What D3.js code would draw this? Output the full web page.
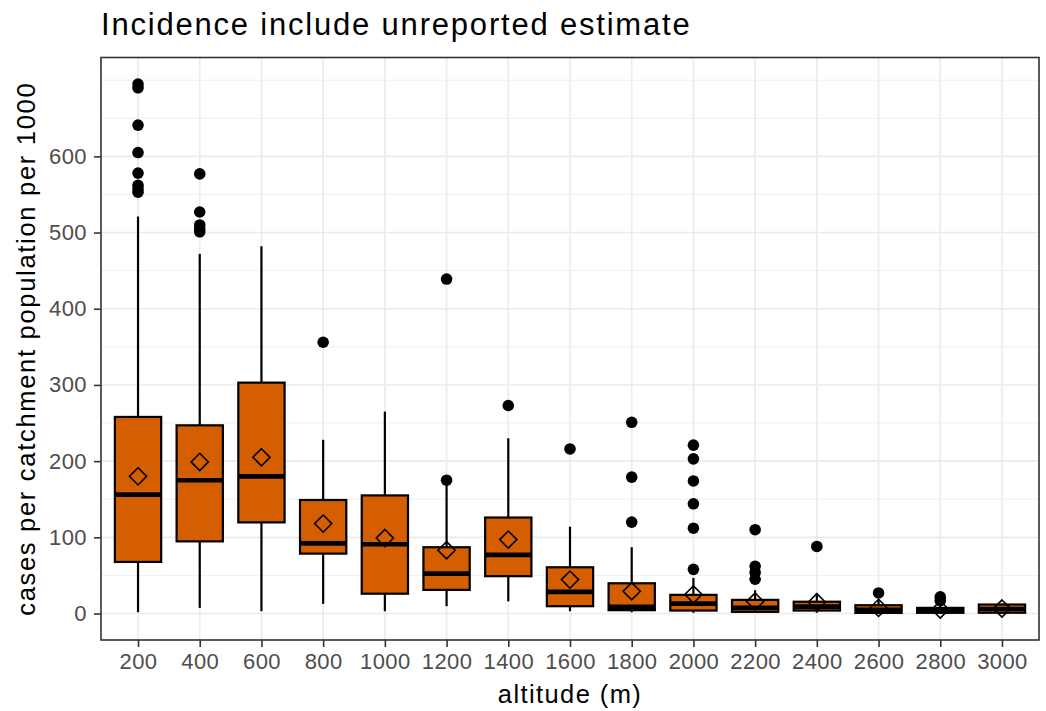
<!DOCTYPE html>
<html lang="en">
<head>
  <meta charset="UTF-8">
  <title>Incidence include unreported estimate</title>
  <script src="https://d3js.org/d3.v7.min.js"></script>
  <style>
    * { margin: 0; padding: 0; }
    body { background-color: #fff; }
    svg { display: block; font-family: "Liberation Sans", Arial, sans-serif; }
  </style>
</head>
<body>
  <svg id="chart" width="1046" height="711"></svg>

  <script>
    // data
    var altitude = [200, 400, 600, 800, 1000, 1200, 1400, 1600, 1800, 2000, 2200, 2400, 2600, 2800, 3000];
    var lowWhisker = [1.7, 7.4, 3, 12.7, 3, 9.6, 16, 3, 1.7, 1, 1, 1, 0.2, 0.2, 0.3];
    var q1 = [67.7, 94.7, 119.6, 78.6, 26, 31, 49, 9.6, 4.4, 3.9, 2.2, 3.9, 0.8, 0.9, 1];
    var median = [156, 175, 180, 92, 91, 52.4, 77, 28.4, 8.7, 13, 7.4, 9, 5, 4, 6];
    var q3 = [258, 247, 303, 149, 155, 87, 126, 60.7, 39.7, 24.5, 17.9, 15.5, 10.9, 7.4, 11.8];
    var highWhisker = [521, 472, 482, 228, 265, 170, 230, 114, 87, 46.7, 30.6, 27, 18, 13, 13];
    var means = [180, 199, 205, 118, 99, 83, 97, 44.5, 29.3, 25, 15.7, 14.8, 7.4, 5.2, 6.5];
    var outliers = [
      [695, 690, 641, 605, 578, 562, 557, 553],
      [577, 527, 510, 505, 501],
      [],
      [356],
      [],
      [175, 439],
      [273],
      [216],
      [251, 179, 120],
      [221, 203, 174, 144, 112, 58],
      [110, 62, 54, 45],
      [88],
      [27],
      [21.8, 17],
      []
    ];
    var yTicks = [0, 100, 200, 300, 400, 500, 600];
    var yMinor = [50, 150, 250, 350, 450, 550, 650, 700];

    var svg = d3.select('#chart');
    var pl = 101, pr = 1039, pt = 57.5, pb = 640;   // panel edges

    var x = d3.scalePoint()
      .domain(altitude)
      .range([pl, pr])
      .padding(0.6);
    var y = d3.scaleLinear()
      .domain([-34.75, 729.75])
      .range([pb, pt]);
    var boxW = x.step() * 0.75;

    // panel grid
    var grid = svg.append('g');
    grid.selectAll('.minor').data(yMinor).enter().append('line')
      .attr('x1', pl).attr('x2', pr)
      .attr('y1', function(d) { return y(d); }).attr('y2', function(d) { return y(d); })
      .attr('stroke', '#EBEBEB').attr('stroke-width', 0.8);
    grid.selectAll('.major').data(yTicks).enter().append('line')
      .attr('x1', pl).attr('x2', pr)
      .attr('y1', function(d) { return y(d); }).attr('y2', function(d) { return y(d); })
      .attr('stroke', '#EBEBEB').attr('stroke-width', 1.6);
    grid.selectAll('.vmajor').data(altitude).enter().append('line')
      .attr('y1', pt).attr('y2', pb)
      .attr('x1', function(d) { return x(d); }).attr('x2', function(d) { return x(d); })
      .attr('stroke', '#EBEBEB').attr('stroke-width', 1.6);

    // boxes
    var rows = altitude.map(function(a, i) {
      return { a: a, lo: lowWhisker[i], q1: q1[i], med: median[i], q3: q3[i], hi: highWhisker[i], mean: means[i], out: outliers[i] };
    });
    var g = svg.append('g').selectAll('g').data(rows).enter().append('g');

    g.append('line')
      .attr('x1', function(d) { return x(d.a); }).attr('x2', function(d) { return x(d.a); })
      .attr('y1', function(d) { return y(d.q3); }).attr('y2', function(d) { return y(d.hi); })
      .attr('stroke', '#000').attr('stroke-width', 2.2);
    g.append('line')
      .attr('x1', function(d) { return x(d.a); }).attr('x2', function(d) { return x(d.a); })
      .attr('y1', function(d) { return y(d.q1); }).attr('y2', function(d) { return y(d.lo); })
      .attr('stroke', '#000').attr('stroke-width', 2.2);
    g.append('rect')
      .attr('x', function(d) { return x(d.a) - boxW / 2; })
      .attr('width', boxW)
      .attr('y', function(d) { return y(d.q3); })
      .attr('height', function(d) { return y(d.q1) - y(d.q3); })
      .attr('fill', '#D55E00').attr('stroke', '#000').attr('stroke-width', 2.2);
    g.append('line')
      .attr('x1', function(d) { return x(d.a) - boxW / 2; }).attr('x2', function(d) { return x(d.a) + boxW / 2; })
      .attr('y1', function(d) { return y(d.med); }).attr('y2', function(d) { return y(d.med); })
      .attr('stroke', '#000').attr('stroke-width', 4.6);

    g.selectAll('circle').data(function(d) { return d.out.map(function(v) { return { a: d.a, v: v }; }); })
      .enter().append('circle')
      .attr('cx', function(d) { return x(d.a); })
      .attr('cy', function(d) { return y(d.v); })
      .attr('r', 5.8)
      .attr('fill', '#000');

    // mean diamond
    var dr = 8.6;
    g.append('path')
      .attr('d', function(d) {
        var cx = x(d.a), cy = y(d.mean);
        return 'M' + cx + ',' + (cy - dr) + 'L' + (cx + dr) + ',' + cy + 'L' + cx + ',' + (cy + dr) + 'L' + (cx - dr) + ',' + cy + 'Z';
      })
      .attr('fill', 'none').attr('stroke', '#000').attr('stroke-width', 1.6);

    // panel border
    svg.append('rect')
      .attr('x', pl).attr('y', pt)
      .attr('width', pr - pl).attr('height', pb - pt)
      .attr('fill', 'none').attr('stroke', '#333').attr('stroke-width', 1.6);

    // axes
    var xAxis = svg.append('g')
      .attr('transform', 'translate(0,' + pb + ')')
      .call(d3.axisBottom(x).tickSizeOuter(0).tickSize(7).tickPadding(6));
    var yAxis = svg.append('g')
      .attr('transform', 'translate(' + pl + ',0)')
      .call(d3.axisLeft(y).tickValues(yTicks).tickSizeOuter(0).tickSize(7).tickPadding(7));
    [xAxis, yAxis].forEach(function(ax) {
      ax.select('.domain').remove();
      ax.selectAll('.tick line').attr('stroke', '#333').attr('stroke-width', 1.6);
      ax.selectAll('.tick text')
        .attr('fill', '#4D4D4D')
        .style('font-size', '22px')
        .style('letter-spacing', '0.4px')
        .style('font-family', '"Liberation Sans", Arial, sans-serif');
    });

    // titles
    svg.append('text')
      .attr('x', 101).attr('y', 35)
      .style('font-size', '31px').style('letter-spacing', '1.8px')
      .text('Incidence include unreported estimate');
    svg.append('text')
      .attr('x', (pl + pr) / 2).attr('y', 703)
      .attr('text-anchor', 'middle')
      .style('font-size', '25.5px').style('letter-spacing', '1.4px')
      .text('altitude (m)');
    svg.append('text')
      .attr('transform', 'translate(35,' + ((pt + pb) / 2) + ') rotate(-90)')
      .attr('text-anchor', 'middle')
      .style('font-size', '25.5px').style('letter-spacing', '1.7px')
      .text('cases per catchment population per 1000');
  </script>
</body>
</html>
